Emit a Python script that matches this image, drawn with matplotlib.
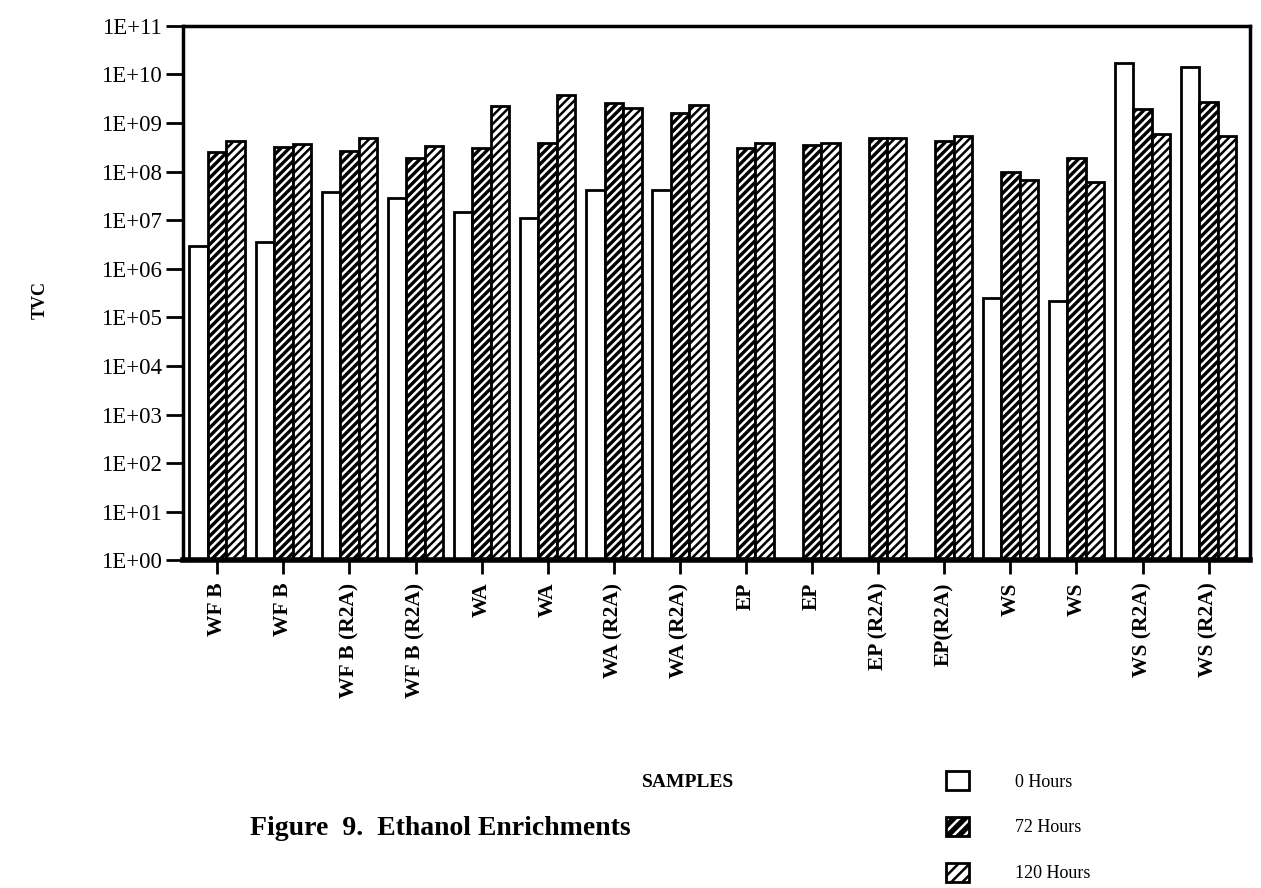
import numpy as np
import matplotlib
matplotlib.use("Agg")
import matplotlib.pyplot as plt
from matplotlib.patches import Patch

plt.rcParams['font.family'] = ['Liberation Serif', 'DejaVu Serif']
plt.rcParams['hatch.linewidth'] = 1.8

# Data (TVC, log scale)
samples = ["WF B", "WF B", "WF B (R2A)", "WF B (R2A)", "WA", "WA", "WA (R2A)", "WA (R2A)",
           "EP", "EP", "EP (R2A)", "EP(R2A)", "WS", "WS", "WS (R2A)", "WS (R2A)"]
hours_0 = [2.9e6, 3.5e6, 3.8e7, 2.8e7, 1.5e7, 1.1e7, 4.2e7, 4.2e7,
           np.nan, np.nan, np.nan, np.nan, 2.5e5, 2.2e5, 1.7e10, 1.4e10]
hours_72 = [2.5e8, 3.2e8, 2.6e8, 1.9e8, 3.0e8, 3.9e8, 2.6e9, 1.6e9,
            3.0e8, 3.5e8, 4.9e8, 4.2e8, 1.0e8, 1.9e8, 1.9e9, 2.7e9]
hours_120 = [4.2e8, 3.7e8, 4.9e8, 3.4e8, 2.2e9, 3.7e9, 2.0e9, 2.3e9,
             3.8e8, 3.8e8, 4.9e8, 5.4e8, 6.8e7, 6.2e7, 6.0e8, 5.3e8]
series_labels = ["0 Hours", "72 Hours", "120 Hours"]
yticks = [10.0 ** k for k in range(0, 12)]

fig = plt.figure(figsize=(12.61, 8.88), dpi=100)
ax = fig.add_axes([0.145, 0.369, 0.846, 0.602])

x = np.arange(len(samples))
w = 0.28

def draw(vals, offset, kind):
    vals = np.asarray(vals, dtype=float)
    ok = ~np.isnan(vals)
    xs = x[ok] + offset
    h = vals[ok] - 1
    if kind == "white":
        ax.bar(xs, h, w, bottom=1, facecolor="white", edgecolor="black", linewidth=2)
    elif kind == "dark":
        ax.bar(xs, h, w, bottom=1, facecolor="black", edgecolor="white", hatch="////", linewidth=0)
        ax.bar(xs, h, w, bottom=1, fill=False, edgecolor="black", linewidth=2)
    else:
        ax.bar(xs, h, w, bottom=1, facecolor="white", edgecolor="black", hatch="////", linewidth=0)
        ax.bar(xs, h, w, bottom=1, fill=False, edgecolor="black", linewidth=2)

draw(hours_0, -w, "white")
draw(hours_72, 0, "dark")
draw(hours_120, w, "light")

ax.set_yscale("log")
ax.set_ylim(1, 1e11)
ax.set_xlim(-0.52, 15.62)
ax.set_yticks(yticks)
ax.set_yticklabels(["1E+%02d" % k for k in range(0, 12)], fontsize=16.5)
ax.minorticks_off()
ax.set_xticks(x)
ax.set_xticklabels(samples, rotation=90, fontsize=15.5, fontweight="bold")
ax.tick_params(axis="y", length=12, width=2, pad=3)
ax.tick_params(axis="x", length=10, width=2, pad=6)

for side in ["left", "top", "right"]:
    ax.spines[side].set_linewidth(2.5)
ax.spines["bottom"].set_linewidth(4)

fig.text(0.032, 0.662, "TVC", rotation=90, fontsize=13, fontweight="bold",
         ha="center", va="center")
fig.text(0.546, 0.119, "SAMPLES", fontsize=14, fontweight="bold", ha="center", va="center")
fig.text(0.349, 0.067, "Figure  9.  Ethanol Enrichments", fontsize=20, fontweight="bold",
         ha="center", va="center")

handles = [
    Patch(facecolor="white", edgecolor="black", linewidth=2),
    (Patch(facecolor="black", edgecolor="white", hatch="///", linewidth=0),
     Patch(fill=False, edgecolor="black", linewidth=2)),
    (Patch(facecolor="white", edgecolor="black", hatch="///", linewidth=0),
     Patch(fill=False, edgecolor="black", linewidth=2)),
]
fig.legend(handles, series_labels, loc="upper left", bbox_to_anchor=(0.743, 0.142),
           frameon=False, fontsize=13, handlelength=1.25, handleheight=1.25,
           labelspacing=1.45, handletextpad=2.6, borderpad=0)

fig.savefig("out.png", dpi=100)
